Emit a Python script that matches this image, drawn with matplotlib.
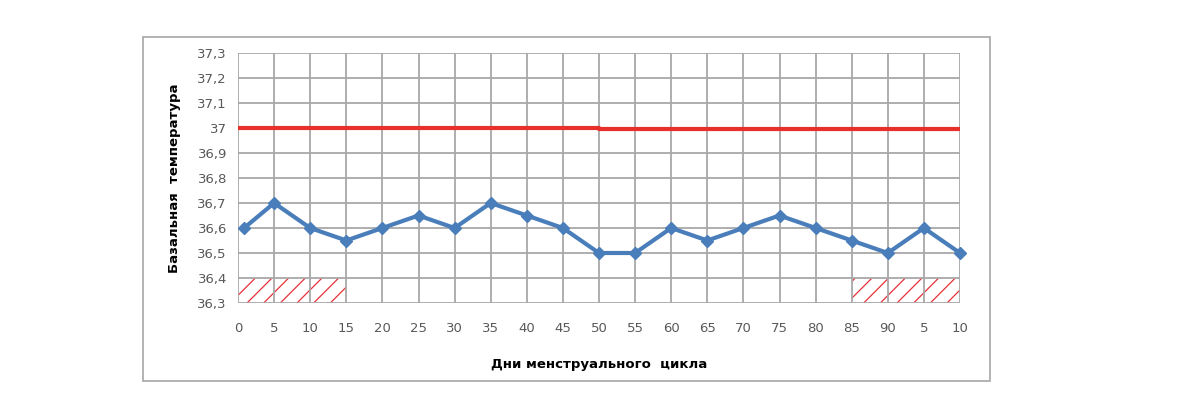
import matplotlib.pyplot as plt
from matplotlib.patches import Rectangle

# x axis labels (days, second cycle starts again at 5)
day_labels = ['0', '5', '10', '15', '20', '25', '30', '35', '40', '45', '50',
              '55', '60', '65', '70', '75', '80', '85', '90', '5', '10']
# positions of the temperature points (first point sits a bit right of 0)
temp_pos = [0.17, 1, 2, 3, 4, 5, 6, 7, 8, 9, 10,
            11, 12, 13, 14, 15, 16, 17, 18, 19, 20]
temps = [36.6, 36.7, 36.6, 36.55, 36.6, 36.65, 36.6, 36.7, 36.65, 36.6, 36.5,
         36.5, 36.6, 36.55, 36.6, 36.65, 36.6, 36.55, 36.5, 36.6, 36.5]
# red reference line, slightly lower in its second half
ref_pos = [0, 10, 10, 20]
ref_vals = [37.0, 37.0, 36.998, 36.998]
# hatched zones (index ranges)
hatch_zones = [(0, 3), (17, 20)]
y_ticks = [36.3, 36.4, 36.5, 36.6, 36.7, 36.8, 36.9, 37.0, 37.1, 37.2, 37.3]
y_tick_labels = ['36,3', '36,4', '36,5', '36,6', '36,7', '36,8', '36,9',
                 '37', '37,1', '37,2', '37,3']

plt.rcParams['hatch.linewidth'] = 0.9
plt.rcParams['hatch.color'] = '#e8303a'

fig = plt.figure(figsize=(11.79, 4.17), dpi=100)
# outer chart border
fig.patches.append(Rectangle((143 / 1179, 1 - 381 / 417), 847 / 1179, 344 / 417,
                             transform=fig.transFigure, fill=False,
                             edgecolor='#a6a6a6', linewidth=1.2))

ax = fig.add_axes([238 / 1179, 1 - 303 / 417, 722 / 1179, 250 / 417])
ax.set_xlim(0, 20)
ax.set_ylim(36.3, 37.3)

ax.set_xticks(range(len(day_labels)))
ax.set_xticklabels(day_labels)
ax.set_yticks(y_ticks)
ax.set_yticklabels(y_tick_labels)
ax.tick_params(length=0, labelsize=9.5, labelcolor='#595959', pad=8)
ax.tick_params(axis='x', pad=14)
ax.grid(True, color='#a8a8a8', linewidth=1.3, zorder=1)
for s in ax.spines.values():
    s.set_visible(False)

for x0, x1 in hatch_zones:
    ax.add_patch(Rectangle((x0, 36.3), x1 - x0, 0.1, facecolor='none',
                           edgecolor='#e8303a', hatch='//', linewidth=0,
                           zorder=0.5))

ax.plot(ref_pos, ref_vals, color='#e8302a', linewidth=3, zorder=3)
ax.plot(temp_pos, temps, color='#4a7ebb', linewidth=3, marker='D',
        markersize=6.5, zorder=4, clip_on=False)

ax.set_xlabel('Дни менструального  цикла', fontsize=9.5, fontweight='bold',
              labelpad=16)
ax.set_ylabel('Базальная  температура', fontsize=9.5, fontweight='bold',
              labelpad=12)

plt.savefig('out.png', dpi=100)
